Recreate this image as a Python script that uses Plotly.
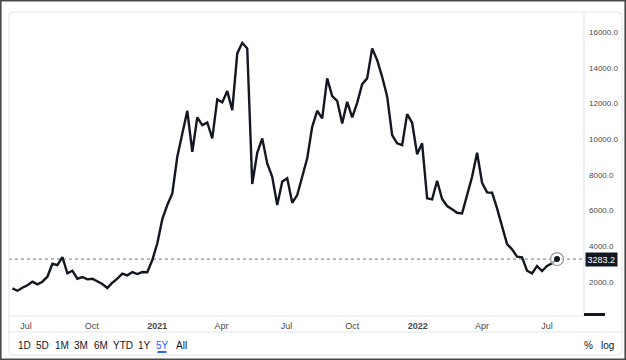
import pandas as pd
import plotly.graph_objects as go

start_date = "2020-06-12"
values = [1646, 1512, 1680, 1814, 2016, 1870, 2016, 2296, 3024, 2950,
          3400, 2486, 2632, 2184, 2279, 2150, 2184, 2038, 1887, 1663,
          1960, 2184, 2464, 2374, 2559, 2447, 2559, 2542, 3231, 4166,
          5520, 6311, 6966, 9016, 10326, 11592, 9296, 11222, 10791, 10942,
          10046, 12230, 12062, 12695, 11631, 14806, 15400, 15086, 7487, 9240,
          10046, 8646, 7896, 6311, 7616, 7806, 6440, 6871, 7896, 8926,
          10696, 11592, 11166, 13406, 12415, 12152, 10886, 12096, 11222, 12040,
          13087, 13406, 15086, 14431, 13496, 12400, 10231, 9766, 9671, 11407,
          10920, 9150, 9766, 6686, 6630, 7672, 6647, 6255, 6070, 5880,
          5846, 6871, 7896, 9240, 7560, 7022, 7000, 6126, 5191, 4127,
          3830, 3416, 3382, 2632, 2486, 2895, 2615, 2895, 3046, 3283.2]
dates = pd.date_range(start_date, periods=len(values), freq="7D")
last_value = values[-1]

x_tick_vals = ["2020-07-01", "2020-10-01", "2021-01-01", "2021-04-01", "2021-07-01",
               "2021-10-01", "2022-01-01", "2022-04-01", "2022-07-01"]
x_tick_text = ["Jul", "Oct", "<b>2021</b>", "Apr", "Jul", "Oct", "<b>2022</b>", "Apr", "Jul"]
y_tick_vals = [2000, 4000, 6000, 8000, 10000, 12000, 14000, 16000]
y_tick_text = [f"{v:.1f}" for v in y_tick_vals]
range_buttons = ["1D", "5D", "1M", "3M", "6M", "YTD", "1Y", "5Y", "All"]
button_px = [24, 42, 62, 81, 101, 123, 144, 162, 181]

W, H = 626, 360
L, R, T, B = 9, 42, 12, 44
PW, PH = W - L - R, H - T - B

def px(x):
    return (x - L) / PW

def py(y):
    return (H - B - y) / PH

line_color = "#131722"
fig = go.Figure()
fig.add_trace(go.Scatter(x=dates, y=values, mode="lines",
                         line=dict(color=line_color, width=2.4), hoverinfo="skip"))
fig.add_trace(go.Scatter(x=[dates[-1]], y=[last_value], mode="markers",
                         marker=dict(size=13, color="rgba(255,255,255,0.6)",
                                     line=dict(color="#9a9a9a", width=1.2)), hoverinfo="skip"))
fig.add_trace(go.Scatter(x=[dates[-1]], y=[last_value], mode="markers",
                         marker=dict(size=6, color=line_color), hoverinfo="skip"))

shapes = []
# dotted last-price line
shapes.append(dict(type="line", xref="paper", yref="y", x0=0, x1=1, y0=last_value, y1=last_value,
                   line=dict(color="#555", width=0.8, dash="dot"), layer="below"))
# outer frame
shapes.append(dict(type="rect", xref="paper", yref="paper", x0=px(0.8), x1=px(625.2), y0=py(0.8), y1=py(359.2),
                   line=dict(color="#4a4a4a", width=1.6)))
# card border with rounded corners
cx0, cx1, cy0, cy1, r = 9, 622, 12, 355, 4
path = (f"M {px(cx0 + r)},{py(cy0)} L {px(cx1 - r)},{py(cy0)} Q {px(cx1)},{py(cy0)} {px(cx1)},{py(cy0 + r)} "
        f"L {px(cx1)},{py(cy1 - r)} Q {px(cx1)},{py(cy1)} {px(cx1 - r)},{py(cy1)} "
        f"L {px(cx0 + r)},{py(cy1)} Q {px(cx0)},{py(cy1)} {px(cx0)},{py(cy1 - r)} "
        f"L {px(cx0)},{py(cy0 + r)} Q {px(cx0)},{py(cy0)} {px(cx0 + r)},{py(cy0)} Z")
shapes.append(dict(type="path", xref="paper", yref="paper", path=path, line=dict(color="#e0e3eb", width=1)))
# separators
shapes.append(dict(type="line", xref="paper", yref="paper", x0=1, x1=1, y0=0, y1=1,
                   line=dict(color="#e0e3eb", width=1)))
shapes.append(dict(type="line", xref="paper", yref="paper", x0=0, x1=1, y0=0, y1=0,
                   line=dict(color="#e0e3eb", width=1)))
shapes.append(dict(type="line", xref="paper", yref="paper", x0=px(9), x1=px(622), y0=py(332), y1=py(332),
                   line=dict(color="#e0e3eb", width=1)))
# partially hidden 0.0 label box
shapes.append(dict(type="rect", xref="paper", yref="paper", x0=px(584), x1=px(605), y0=py(316), y1=py(313),
                   fillcolor=line_color, line=dict(width=0)))
# 5Y underline
shapes.append(dict(type="line", xref="paper", yref="paper", x0=px(157.5), x1=px(166.5), y0=py(352), y1=py(352),
                   line=dict(color="#2962ff", width=2)))

annotations = []
annotations.append(dict(xref="paper", yref="y", x=1, y=last_value, xanchor="left", yanchor="middle",
                        text=f"{last_value:.1f}", showarrow=False, bgcolor=line_color,
                        font=dict(color="white", size=9, family="Liberation Sans"), borderpad=1.5, xshift=1))
for lab, bx in zip(range_buttons, button_px):
    annotations.append(dict(xref="paper", yref="paper", x=px(bx), y=py(345), text=lab, showarrow=False,
                            xanchor="center", yanchor="middle",
                            font=dict(size=10, family="Liberation Sans",
                                      color="#2962ff" if lab == "5Y" else "#131722")))
for lab, bx in [("%", 588), ("log", 607)]:
    annotations.append(dict(xref="paper", yref="paper", x=px(bx), y=py(345), text=lab, showarrow=False,
                            xanchor="center", yanchor="middle",
                            font=dict(size=10, family="Liberation Sans", color="#131722")))

fig.update_layout(
    width=W, height=H, margin=dict(l=L, r=R, t=T, b=B),
    paper_bgcolor="white", plot_bgcolor="white", showlegend=False,
    shapes=shapes, annotations=annotations,
    xaxis=dict(range=["2020-06-07 05:00", "2022-08-21 19:00"], tickvals=x_tick_vals, ticktext=x_tick_text,
               showgrid=False, zeroline=False, showline=False, ticks="", ticklen=0, ticklabelstandoff=3,
               tickfont=dict(size=9, color="#4a4a4a", family="Liberation Sans")),
    yaxis=dict(range=[95, 17126], side="right", tickvals=y_tick_vals, ticktext=y_tick_text,
               showgrid=False, zeroline=False, showline=False, ticks="", ticklen=0, ticklabelstandoff=4,
               tickfont=dict(size=8, color="#4a4a4a", family="Liberation Sans")),
)
fig.write_html("out.html")
